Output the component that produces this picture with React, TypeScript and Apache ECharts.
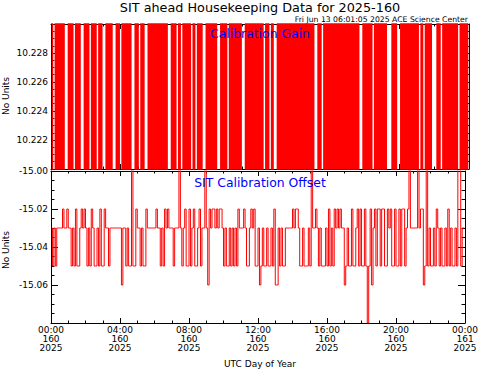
import React, { useEffect, useRef } from "react";
import * as echarts from "echarts";

// SIT Calibration Gain (5-minute samples, day 160). The signal toggles between two
// levels that both lie outside the plotted window.
const gainValues: number[] = [
  10.231, 10.219, 10.219, 10.231, 10.219, 10.231, 10.219, 10.231, 10.219, 10.231, 10.231, 10.231, 10.219, 10.231, 10.219, 10.231,
  10.231, 10.219, 10.231, 10.219, 10.231, 10.231, 10.231, 10.219, 10.231, 10.219, 10.231, 10.231, 10.219, 10.231, 10.219, 10.231,
  10.231, 10.219, 10.231, 10.219, 10.219, 10.219, 10.231, 10.219, 10.231, 10.219, 10.231, 10.231, 10.231, 10.219, 10.231, 10.219,
  10.219, 10.231, 10.219, 10.231, 10.219, 10.231, 10.219, 10.231, 10.231, 10.231, 10.219, 10.231, 10.219, 10.219, 10.231, 10.219,
  10.231, 10.231, 10.231, 10.219, 10.231, 10.219, 10.231, 10.219, 10.231, 10.219, 10.231, 10.219, 10.231, 10.219, 10.231, 10.219,
  10.231, 10.231, 10.231, 10.219, 10.231, 10.219, 10.231, 10.231, 10.219, 10.231, 10.231, 10.219, 10.231, 10.219, 10.231, 10.219,
  10.231, 10.231, 10.219, 10.231, 10.231, 10.219, 10.231, 10.219, 10.231, 10.231, 10.231, 10.219, 10.231, 10.219, 10.231, 10.219,
  10.231, 10.219, 10.231, 10.231, 10.231, 10.219, 10.231, 10.219, 10.231, 10.219, 10.219, 10.231, 10.219, 10.231, 10.219, 10.231,
  10.219, 10.231, 10.219, 10.231, 10.231, 10.231, 10.219, 10.231, 10.219, 10.231, 10.219, 10.231, 10.219, 10.231, 10.219, 10.231,
  10.219, 10.231, 10.219, 10.219, 10.231, 10.219, 10.231, 10.231, 10.219, 10.231, 10.231, 10.231, 10.219, 10.231, 10.219, 10.231,
  10.219, 10.231, 10.219, 10.231, 10.219, 10.231, 10.219, 10.231, 10.219, 10.231, 10.219, 10.231, 10.219, 10.231, 10.219, 10.231,
  10.219, 10.231, 10.219, 10.231, 10.219, 10.231, 10.231, 10.231, 10.219, 10.231, 10.219, 10.219, 10.231, 10.219, 10.231, 10.219,
  10.231, 10.219, 10.231, 10.219, 10.231, 10.219, 10.231, 10.219, 10.231, 10.219, 10.231, 10.219, 10.231, 10.219, 10.231, 10.219,
  10.231, 10.219, 10.231, 10.219, 10.231, 10.231, 10.231, 10.219, 10.231, 10.219, 10.231, 10.219, 10.231, 10.219, 10.219, 10.231,
  10.219, 10.231, 10.219, 10.231, 10.219, 10.231, 10.219, 10.231, 10.231, 10.231, 10.231, 10.219, 10.231, 10.219, 10.231, 10.231,
  10.231, 10.219, 10.231, 10.219, 10.231, 10.219, 10.231, 10.219, 10.231, 10.219, 10.231, 10.219, 10.231, 10.219, 10.219, 10.231,
  10.219, 10.219, 10.231, 10.219, 10.231, 10.219, 10.231, 10.231, 10.231, 10.231, 10.219, 10.231, 10.219, 10.219, 10.231, 10.219,
  10.231, 10.219, 10.231, 10.219, 10.231, 10.219, 10.231, 10.219, 10.231, 10.231, 10.219, 10.231, 10.219, 10.231, 10.219, 10.231,
];

// SIT Calibration Offset (5-minute samples, day 160)
const offsetValues: number[] = [
  -15.03, -15.05, -15.03, -15.05, -15.03, -15.03, -15.03, -15.03, -15.02, -15.03, -15.03, -15.02, -15.03, -15.03, -15.05, -15.03,
  -15.05, -15.02, -15.05, -15.05, -15.03, -15.02, -15.03, -15.02, -15.03, -15.05, -15.03, -15.05, -15.02, -15.03, -15.05, -15.05,
  -15.03, -15.05, -15.02, -15.05, -15.05, -15.02, -15.03, -15.03, -15.05, -15.03, -15.03, -15.03, -15.03, -15.03, -15.03, -15.03,
  -15.03, -15.06, -15.03, -15.03, -15.05, -15.03, -15.05, -15.05, -14.99, -15.05, -15.05, -15.02, -15.03, -15.03, -15.05, -15.03,
  -15.05, -15.05, -15.02, -15.03, -15.03, -15.03, -15.03, -15.03, -15.03, -15.02, -15.03, -15.03, -15.05, -15.03, -15.05, -15.02,
  -15.03, -15.02, -15.03, -15.03, -15.03, -15.05, -15.03, -15.03, -15.03, -14.99, -15.03, -15.05, -15.03, -15.02, -15.05, -15.05,
  -15.02, -15.05, -15.03, -15.02, -15.05, -15.05, -15.03, -15.02, -15.05, -15.03, -15.03, -14.99, -15.03, -15.06, -15.02, -15.03,
  -15.02, -15.02, -15.03, -15.02, -15.03, -15.02, -15.02, -15.03, -15.05, -15.03, -15.05, -15.05, -15.03, -15.05, -15.03, -15.05,
  -15.03, -15.05, -15.02, -15.03, -15.03, -15.03, -15.02, -15.03, -15.05, -15.05, -15.03, -15.02, -15.03, -15.02, -15.05, -15.05,
  -15.03, -15.06, -15.05, -15.03, -15.05, -15.05, -15.03, -15.05, -15.05, -15.03, -15.05, -15.02, -15.06, -15.06, -15.03, -15.05,
  -15.03, -15.05, -15.05, -15.03, -15.03, -15.03, -15.03, -15.03, -15.02, -15.03, -15.02, -15.02, -15.03, -15.05, -15.05, -15.03,
  -15.05, -15.05, -15.05, -15.03, -15.05, -14.99, -15.03, -15.03, -15.02, -15.03, -15.05, -15.03, -15.05, -15.05, -15.05, -15.03,
  -15.05, -15.02, -15.05, -15.03, -15.05, -15.02, -15.03, -15.02, -15.03, -15.02, -15.03, -15.03, -15.06, -15.05, -15.03, -15.05,
  -15.05, -15.02, -15.05, -15.05, -15.03, -15.02, -15.05, -15.02, -15.05, -15.05, -15.02, -15.05, -15.08, -15.05, -15.02, -15.06,
  -15.03, -15.02, -15.05, -15.02, -15.02, -15.05, -15.02, -15.02, -15.05, -15.05, -15.02, -15.03, -15.02, -15.05, -15.05, -15.02,
  -15.05, -15.05, -15.02, -15.05, -15.02, -15.02, -15.05, -15.03, -15.02, -14.99, -15.03, -15.03, -15.03, -15.03, -15.03, -14.99,
  -15.03, -15.02, -15.02, -15.06, -15.05, -14.99, -15.05, -15.03, -15.05, -15.05, -15.03, -15.05, -15.02, -15.03, -15.05, -15.03,
  -15.05, -15.05, -15.03, -15.05, -15.02, -15.05, -15.03, -15.05, -15.05, -15.03, -15.05, -14.99, -14.99, -15.05, -15.03, -15.03,
];

const sampleMinutes = 5; // cadence of the samples
const xTickLabels = [
  "00:00\n160\n2025",
  "04:00\n160\n2025",
  "08:00\n160\n2025",
  "12:00\n160\n2025",
  "16:00\n160\n2025",
  "20:00\n160\n2025",
  "00:00\n161\n2025",
];

const FONT = "'DejaVu Sans', Verdana, sans-serif";

export default function App() {
  const ref = useRef<HTMLDivElement>(null);

  useEffect(() => {
    document.body.style.margin = "0";
    if (!ref.current) return;
    const chart = echarts.init(ref.current, undefined, { renderer: "svg" });

    const toXY = (vals: number[]) =>
      vals.map((v, i) => [i * sampleMinutes + sampleMinutes / 2, v]);

    const tickStyle = { color: "#000", width: 1 };
    const xBase = (gridIndex: number, position: string, labels: boolean) => ({
      type: "value",
      gridIndex,
      position,
      min: 0,
      max: 1440,
      interval: 240,
      axisLine: { show: true, onZero: false, lineStyle: tickStyle },
      axisTick: { show: true, inside: true, length: 5, lineStyle: tickStyle },
      minorTick: { show: true, splitNumber: 4, length: 2.5, lineStyle: tickStyle },
      splitLine: { show: false },
      axisLabel: labels
        ? {
            show: true,
            formatter: (v: number) => xTickLabels[Math.round(v / 240)] ?? "",
            fontSize: 9,
            lineHeight: 9,
            margin: 2,
            color: "#000",
            fontFamily: FONT,
            showMinLabel: true,
            showMaxLabel: true,
            hideOverlap: false,
          }
        : { show: false },
    });
    const yBase = (
      gridIndex: number,
      position: string,
      min: number,
      max: number,
      interval: number,
      digits: number,
      labels: boolean,
      showMaxLabel: boolean
    ) => ({
      type: "value",
      gridIndex,
      position,
      min,
      max,
      interval,
      axisLine: { show: true, onZero: false, lineStyle: tickStyle },
      axisTick: { show: true, inside: true, length: 7, lineStyle: tickStyle },
      minorTick: { show: true, splitNumber: 4, length: 3.5, lineStyle: tickStyle },
      splitLine: { show: false },
      axisLabel: labels
        ? {
            show: true,
            formatter: (v: number) => v.toFixed(digits),
            fontSize: 9,
            margin: 3,
            color: "#000",
            fontFamily: FONT,
            showMinLabel: false,
            showMaxLabel,
          }
        : { show: false },
    });

    const txt = (
      text: string,
      x: number,
      y: number,
      fontSize: number,
      fill: string,
      align: string,
      verticalAlign: string,
      rotation = 0
    ) => ({
      type: "text",
      x,
      y,
      rotation,
      z: 10,
      style: { text, fontSize, fontFamily: FONT, fill, align, verticalAlign },
    });

    chart.setOption({
      animation: false,
      backgroundColor: "#fff",
      textStyle: { fontFamily: FONT },
      grid: [
        { left: 51, top: 24, width: 418, height: 145 },
        { left: 51, top: 171, width: 418, height: 152 },
      ],
      xAxis: [
        xBase(0, "bottom", false),
        xBase(0, "top", false),
        xBase(1, "bottom", true),
        xBase(1, "top", false),
      ],
      yAxis: [
        yBase(0, "left", 10.22, 10.23, 0.002, 3, true, false),
        yBase(0, "right", 10.22, 10.23, 0.002, 3, false, false),
        yBase(1, "left", -15.08, -15.0, 0.02, 2, true, true),
        yBase(1, "right", -15.08, -15.0, 0.02, 2, false, true),
      ],
      series: [
        {
          name: "Calibration Gain",
          type: "line",
          xAxisIndex: 0,
          yAxisIndex: 0,
          data: toXY(gainValues),
          step: "middle",
          showSymbol: false,
          symbol: "none",
          lineStyle: { color: "#ff0000", width: 1.5 },
          clip: true,
          z: 2,
        },
        {
          name: "SIT Calibration Offset",
          type: "line",
          xAxisIndex: 2,
          yAxisIndex: 2,
          data: toXY(offsetValues),
          step: "middle",
          showSymbol: false,
          symbol: "none",
          lineStyle: { color: "#ff0000", width: 1 },
          clip: true,
          z: 2,
        },
      ],
      graphic: [
        txt("SIT ahead Housekeeping Data for 2025-160", 260, 0.5, 12.8, "#000", "center", "top"),
        txt("Fri Jun 13 06:01:05 2025 ACE Science Center", 468, 19.5, 7.7, "#000", "right", "middle"),
        txt("Calibration Gain", 260, 33, 12.4, "#0000ff", "center", "middle"),
        txt("SIT Calibration Offset", 260, 182, 12.4, "#0000ff", "center", "middle"),
        txt("No Units", 6, 96, 9, "#000", "center", "middle", Math.PI / 2),
        txt("No Units", 6, 250, 9, "#000", "center", "middle", Math.PI / 2),
        txt("UTC Day of Year", 260, 364, 9, "#000", "center", "middle"),
      ],
    });

    return () => chart.dispose();
  }, []);

  return <div ref={ref} style={{ width: 481, height: 370 }} />;
}
